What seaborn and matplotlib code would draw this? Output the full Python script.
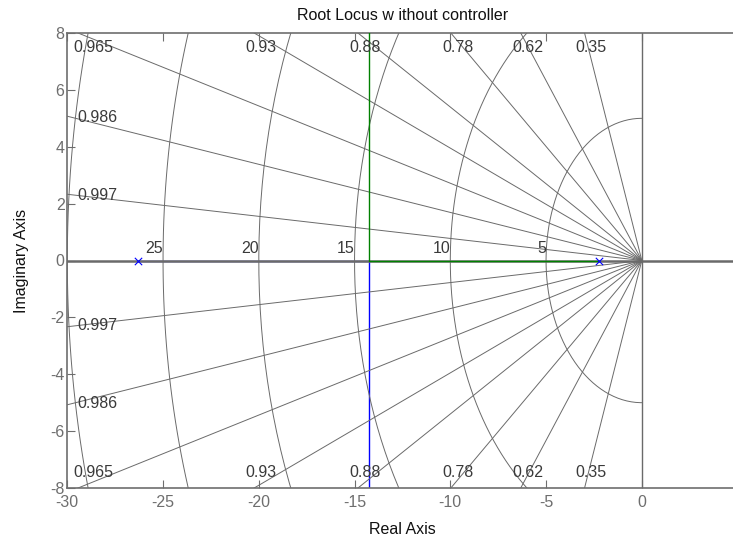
import numpy as np
import pandas as pd
import matplotlib
matplotlib.use("Agg")
import matplotlib.pyplot as plt
import seaborn as sns

# ---- data ----
poles = [-26.29, -2.21]                      # open-loop poles (blue x)
zeta_values = [0.35, 0.62, 0.78, 0.88, 0.93, 0.965, 0.986, 0.997]
wn_values = [5, 10, 15, 20, 25, 30]           # natural-frequency circles
wn_labels = ["5", "10", "15", "20", "25"]
x_ticks = [-30, -25, -20, -15, -10, -5, 0]
y_ticks = [-8, -6, -4, -2, 0, 2, 4, 6, 8]
x_lim = (-30, 5)
y_lim = (-8, 8)

title = "Root Locus w ithout controller"
x_label = "Real Axis"
y_label = "Imaginary Axis"

sns.set_theme(style="white")
plt.rcParams["font.family"] = ["Liberation Sans", "DejaVu Sans"]

GRID = "#6a6a6a"
TICK = "#6e6e6e"
LABEL = "#3a3a3a"
FS = 11.5

fig = plt.figure(figsize=(7.33, 5.39), dpi=100)
W, H = 733, 539
left_px, top_px, bottom_px = 67.3, 33, 488
px_per_unit = 19.15
ax = fig.add_axes([left_px / W, (H - bottom_px) / H,
                   (x_lim[1] - x_lim[0]) * px_per_unit / W,
                   (bottom_px - top_px) / H])

# ---- s-plane grid (sgrid) ----
R = 60
for z in zeta_values:
    s = np.sqrt(1 - z ** 2)
    for sign in (1, -1):
        ax.plot([0, -R * z], [0, sign * R * s], color=GRID, lw=0.7, zorder=2)
theta = np.linspace(np.pi / 2, 3 * np.pi / 2, 200)
for w in wn_values:
    ax.plot(w * np.cos(theta), w * np.sin(theta), color=GRID, lw=0.7, zorder=2)
ax.axvline(0, color=GRID, lw=1.0, zorder=2.5)

# zeta labels
for z in zeta_values:
    slope = np.sqrt(1 - z ** 2) / z
    x_exit = -y_lim[1] / slope
    if x_exit >= x_lim[0]:
        xc = max(x_exit + 0.35, -28.65)
        ax.text(xc, 7.33, f"{z:g}", ha="center", va="baseline",
                fontsize=FS, color=LABEL, zorder=6)
        ax.text(xc, -7.62, f"{z:g}", ha="center", va="baseline",
                fontsize=FS, color=LABEL, zorder=6)
    else:
        y_exit = -x_lim[0] * slope
        ax.text(-29.5, y_exit, f"{z:g}", ha="left", va="center_baseline",
                fontsize=FS, color=LABEL, zorder=6)
        ax.text(-29.5, -y_exit + 0.1, f"{z:g}", ha="left", va="center_baseline",
                fontsize=FS, color=LABEL, zorder=6)

# wn labels
for w, lab in zip(wn_values, wn_labels):
    ax.text(-w, 0.26, lab, ha="right", va="baseline",
            fontsize=FS, color=LABEL, zorder=6)

# ---- root locus branches ----
meet = (poles[0] + poles[1]) / 2
df = pd.DataFrame({
    "x": [poles[1], meet, meet, poles[0], meet, meet],
    "y": [0, 0, 9, 0, 0, -9],
    "branch": ["g", "g", "g", "b", "b", "b"],
})
sns.lineplot(data=df[df.branch == "b"], x="x", y="y", sort=False, estimator=None,
             color="#0000ff", lw=1.0, ax=ax, zorder=1.2)
for ln in ax.get_lines():
    if ln.get_color() == "#0000ff":
        ln.set_zorder(1.2)

# real axis (zeta = 1 line) drawn over the blue real-axis segment
ax.axhline(0, color=GRID, lw=1.8, zorder=4)

sns.lineplot(data=df[df.branch == "g"], x="x", y="y", sort=False, estimator=None,
             color="#008000", lw=1.0, ax=ax, zorder=4.5)
for ln in ax.get_lines():
    if ln.get_color() == "#008000":
        ln.set_zorder(4.5)

pole_df = pd.DataFrame({"x": poles, "y": [0, 0]})
sns.scatterplot(data=pole_df, x="x", y="y", marker="x", s=28, color="#0000ff",
                linewidth=0.8, ax=ax, zorder=5)

# ---- axes styling ----
ax.set_xlim(*x_lim)
ax.set_ylim(*y_lim)
ax.set_xticks(x_ticks)
ax.set_yticks(y_ticks)
ax.set_xticklabels([f"{t:g}" for t in x_ticks])
ax.set_yticklabels([f"{t:g}" for t in y_ticks])
ax.tick_params(axis="both", direction="in", length=6, width=0.8, color=TICK,
               labelcolor=TICK, labelsize=FS, top=True, right=False,
               bottom=True, left=True)
ax.tick_params(axis="x", pad=5)
ax.tick_params(axis="y", pad=2)
for side in ("top", "bottom", "left"):
    ax.spines[side].set_visible(True)
    ax.spines[side].set_color(TICK)
    ax.spines[side].set_linewidth(1.2)
ax.spines["right"].set_visible(False)
ax.grid(False)
ax.set_facecolor("white")

ax.set_title(title, fontsize=FS, color="#111111", pad=9)
ax.set_xlabel(x_label, fontsize=FS, color="#111111", labelpad=9)
ax.set_ylabel(y_label, fontsize=FS, color="#111111", labelpad=15)

fig.savefig("out.png", dpi=100, facecolor="white")
